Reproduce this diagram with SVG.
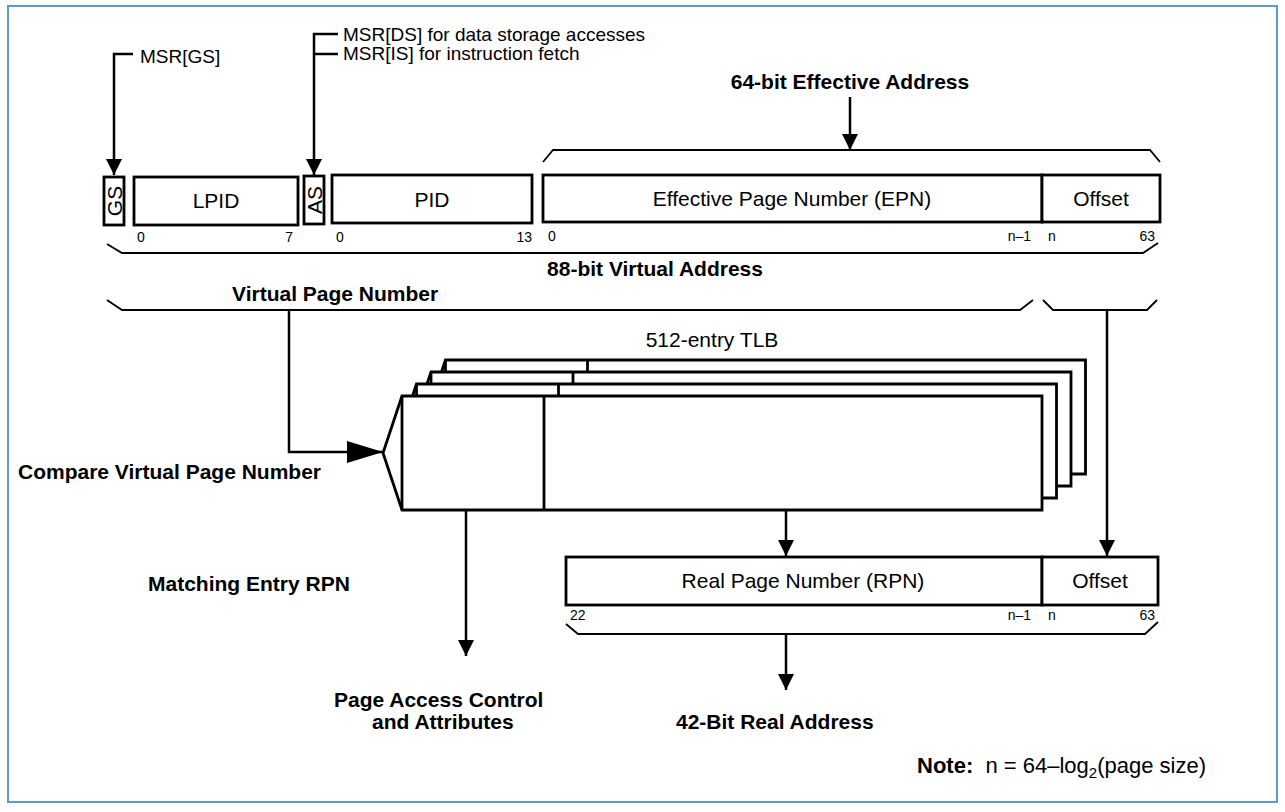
<svg xmlns="http://www.w3.org/2000/svg" width="1285" height="812" viewBox="0 0 1285 812">
<style>
.frame{fill:#fff;stroke:#5b9bd5;stroke-width:2}
.box{fill:#fff;stroke:#000;stroke-width:2.8}
.ln{fill:none;stroke:#000;stroke-width:2.5}
.br{fill:none;stroke:#000;stroke-width:1.8}
.t{font-family:"Liberation Sans",Arial,Helvetica,sans-serif;font-size:21px;fill:#000}
.b{font-weight:bold}
.m{text-anchor:middle}
.e{text-anchor:end}
.s{font-size:14px}
.msr{font-size:19px}
.note{font-size:22px}
</style>
<defs>
<marker id="ah" viewBox="0 0 16 16" refX="16" refY="8" markerWidth="16" markerHeight="16" markerUnits="userSpaceOnUse" orient="auto"><path d="M0,0 L16,8 L0,16 z" fill="#000"/></marker>
<marker id="ahL" viewBox="0 0 36 22" refX="36" refY="11" markerWidth="36" markerHeight="22" markerUnits="userSpaceOnUse" orient="auto"><path d="M0,0 L36,11 L0,22 z" fill="#000"/></marker>
</defs>
<rect class="frame" x="8" y="6" width="1269" height="796"/>

<g id="tlb">
<g id="tlb-layer4"><path class="box" d="M445.5,360 H1085.5 V474 H445.5 L426.5,417 Z"/><line class="box" x1="445.5" y1="360" x2="445.5" y2="474"/><line class="box" x1="587.5" y1="360" x2="587.5" y2="474"/></g>
<g id="tlb-layer3"><path class="box" d="M431,372 H1071 V486 H431 L412,429 Z"/><line class="box" x1="431" y1="372" x2="431" y2="486"/><line class="box" x1="573" y1="372" x2="573" y2="486"/></g>
<g id="tlb-layer2"><path class="box" d="M416.5,384 H1056.5 V498 H416.5 L397.5,441 Z"/><line class="box" x1="416.5" y1="384" x2="416.5" y2="498"/><line class="box" x1="558.5" y1="384" x2="558.5" y2="498"/></g>
<g id="tlb-layer1"><path class="box" d="M402,396 H1042 V510 H402 L383,453 Z"/><line class="box" x1="402" y1="396" x2="402" y2="510"/><line class="box" x1="544" y1="396" x2="544" y2="510"/></g>
<text class="t m" x="712" y="347">512-entry TLB</text>
</g>

<g id="gs"><rect class="box" x="104" y="177" width="20" height="48"/><text class="t m" transform="translate(114,201) rotate(-90)" y="7.5">GS</text></g>
<g id="lpid"><rect class="box" x="134" y="177" width="164" height="48"/><text class="t m" x="216" y="208">LPID</text><text class="t s" x="137" y="242">0</text><text class="t s e" x="293" y="242">7</text></g>
<g id="as"><rect class="box" x="304" y="176" width="20" height="48"/><text class="t m" transform="translate(314,200) rotate(-90)" y="7.5">AS</text></g>
<g id="pid"><rect class="box" x="332" y="175" width="200" height="48"/><text class="t m" x="432" y="207">PID</text><text class="t s" x="336" y="242">0</text><text class="t s e" x="532" y="242">13</text></g>
<g id="epn"><rect class="box" x="543" y="175" width="499" height="47"/><text class="t m" x="792" y="206">Effective Page Number (EPN)</text><text class="t s" x="548" y="241">0</text><text class="t s e" x="1031" y="241">n–1</text></g>
<g id="ea-offset"><rect class="box" x="1042" y="175" width="118" height="47"/><text class="t m" x="1101" y="206">Offset</text><text class="t s" x="1048" y="241">n</text><text class="t s e" x="1155" y="241">63</text></g>
<g id="rpn"><rect class="box" x="566" y="557" width="476" height="48"/><text class="t m" x="803" y="588">Real Page Number (RPN)</text><text class="t s" x="570" y="620">22</text><text class="t s e" x="1031" y="620">n–1</text></g>
<g id="ra-offset"><rect class="box" x="1042" y="557" width="116" height="48"/><text class="t m" x="1100" y="588">Offset</text><text class="t s" x="1048" y="620">n</text><text class="t s e" x="1155" y="620">63</text></g>

<g id="braces">
<path class="br" d="M543,162 L553,150 H1150 L1160,162"/>
<path class="br" d="M107,244 L122,253 H1143 L1158,243"/>
<path class="br" d="M107,300 L122,310 H1020 L1033,300"/>
<path class="br" d="M1043,300 L1053,310 H1147 L1157,300"/>
<path class="br" d="M566,624 L578,634 H1145 L1158,622"/>
</g>

<g id="connectors">
<path class="ln" d="M133,54 H114 V175" marker-end="url(#ah)"/>
<path class="ln" d="M338,34 H314 V175" marker-end="url(#ah)"/>
<path class="ln" d="M314,54 H338"/>
<path class="ln" d="M850,97 V150" marker-end="url(#ah)"/>
<path class="ln" d="M289,310 V452 H383" marker-end="url(#ahL)"/>
<path class="ln" d="M1107,310 V556" marker-end="url(#ah)"/>
<path class="ln" d="M786,510 V556" marker-end="url(#ah)"/>
<path class="ln" d="M466,510 V656" marker-end="url(#ah)"/>
<path class="ln" d="M786,634 V690" marker-end="url(#ah)"/>
</g>

<g id="labels">
<text class="t msr" x="140" y="63">MSR[GS]</text>
<text class="t msr" x="343" y="41">MSR[DS] for data storage accesses</text>
<text class="t msr" x="343" y="60">MSR[IS] for instruction fetch</text>
<text class="t b m" x="850" y="89">64-bit Effective Address</text>
<text class="t b m" x="655" y="276">88-bit Virtual Address</text>
<text class="t b" x="232" y="301">Virtual Page Number</text>
<text class="t b" x="18" y="479">Compare Virtual Page Number</text>
<text class="t b" x="148" y="591">Matching Entry RPN</text>
<text class="t b" x="334" y="707">Page Access Control</text>
<text class="t b" x="372" y="729">and Attributes</text>
<text class="t b" x="676" y="729">42-Bit Real Address</text>
<text class="t note" x="917" y="773" xml:space="preserve"><tspan class="b">Note:</tspan>  n = 64–log<tspan font-size="15" dy="5">2</tspan><tspan dy="-5">(page size)</tspan></text>
</g>
</svg>
